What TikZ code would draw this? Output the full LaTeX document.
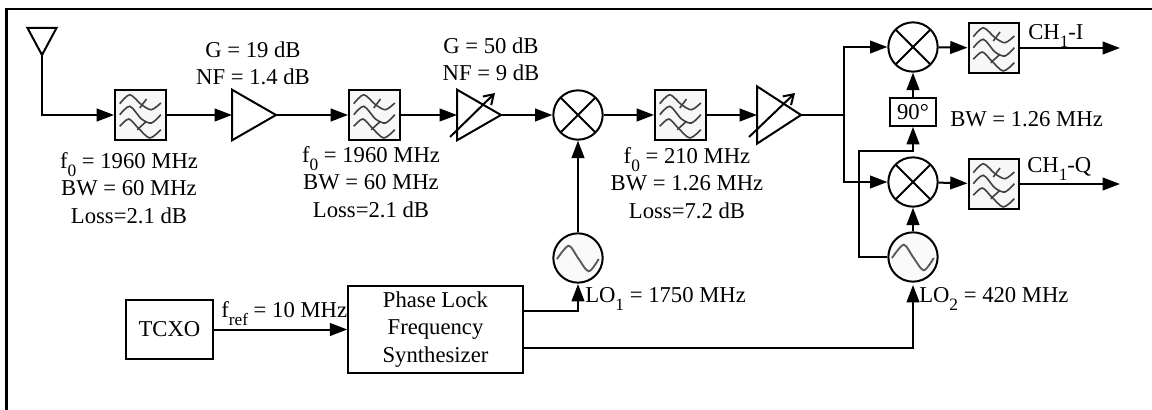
\documentclass[tikz,border=0pt]{standalone}
\usepackage{fontspec}
\setmainfont{Liberation Serif}
\usetikzlibrary{arrows.meta,shapes.geometric}
\newcommand{\mysub}[1]{\raisebox{-0.75ex}[0pt][0pt]{\fontsize{13}{12}\selectfont #1}}
\tikzset{
 wire/.style={line width=1.5pt},
 sig/.style={wire,-{Triangle[length=13pt,width=9.5pt]}},
 lbl/.style={font=\fontsize{17}{20.6}\selectfont,align=center,inner sep=0pt},
 blockbox/.style={draw,line width=1.4pt,inner sep=0pt,font=\fontsize{17}{20.6}\selectfont,align=center},
 filterbox/.style={draw,line width=1.7pt,fill=black!3,minimum size=38pt,inner sep=0pt,
  path picture={
  \begin{scope}[shift={(path picture bounding box.center)},line width=1.2pt,black!75]
  \draw plot[smooth] coordinates {(-20.7,-11.3) (-10.7,-20.3) (1,-10.3) (11,-5.3) (20.3,-12)};
  \draw plot[smooth] coordinates {(-20.7,-0.3) (-10.7,-8.7) (1,4) (11,8) (20.3,-0.3)};
  \draw plot[smooth] coordinates {(-20.7,11.3) (-11.7,4) (-2.3,13) (9.3,23) (20.3,14.7)};
  \draw (-0.7,-7) -- (6,-16);
  \draw (-3.3,14.7) -- (6,6.3);
  \end{scope}
 }},
 mixer/.style={draw,circle,line width=1.5pt,minimum size=37pt,inner sep=0pt,fill=white,
  path picture={
  \draw[line width=1.5pt] (path picture bounding box.north west) -- (path picture bounding box.south east);
  \draw[line width=1.5pt] (path picture bounding box.north east) -- (path picture bounding box.south west);
 }},
 osc/.style={draw,circle,line width=1.5pt,minimum size=37pt,inner sep=0pt,fill=black!2,
  path picture={
  \begin{scope}[shift={(path picture bounding box.center)}]
  \draw[line width=1.4pt,black!65] plot[smooth] coordinates {(-21,1) (-9.3,-12.3) (0,0) (10.7,13.3) (20.7,1)};
  \end{scope}
 }},
 amp/.style={draw,isosceles triangle,isosceles triangle stretches,line width=1.5pt,
  inner sep=0pt,outer sep=0pt,anchor=lower side,minimum width=#1,minimum height=33pt},
 amp/.default=38pt,
 tune/.style={line width=1.5pt,-{Straight Barb[length=7pt,width=9pt]}}
}
\begin{document}
\begin{tikzpicture}[x=0.75pt,y=-0.75pt]
\useasboundingbox (0,0) rectangle (1152,410);
%Frame
\coordinate (frameBL) at (6.5,410);
\coordinate (frameTL) at (6.5,9);
\coordinate (frameTR) at (1152,9);
\draw[line width=1.8pt] (frameBL) -- (frameTL) -- (frameTR);
%Antenna
\coordinate (antL) at (27.5,28);
\coordinate (antR) at (56.5,28);
\coordinate (antTip) at (42,55);
\draw[wire] (antL) -- (antR) -- (antTip) -- cycle;
%Receive chain
\node[filterbox] (filt1) at (140.5,115) {};
\node[amp] (lna) at (232,115) {};
\node[filterbox] (filt2) at (374.5,115) {};
\node[amp] (vga1) at (457,115) {};
\node[mixer] (mix) at (578,115) {};
\node[filterbox] (filt3) at (680.5,115) {};
\node[amp=43pt] (vga2) at (757,115) {};
%I and Q paths
\coordinate (split) at (844,115);
\node[mixer] (mixI) at (913,47) {};
\node[mixer] (mixQ) at (913,182) {};
\node[filterbox] (filtI) at (994,48) {};
\node[filterbox] (filtQ) at (994,184) {};
\coordinate (outI) at (1120,48);
\coordinate (outQ) at (1120,184);
\node[blockbox,minimum width=35pt,minimum height=21pt] (shift) at (913,112) {90°};
%Local oscillators
\node[osc] (lo1) at (578,258) {};
\node[osc] (lo2) at (913,257) {};
\node[blockbox,minimum width=65pt,minimum height=44pt] (tcxo) at (169.5,329.5) {TCXO};
\node[blockbox,minimum width=131pt,minimum height=65pt] (pll) at (435.5,329.5) {Phase Lock\\Frequency\\Synthesizer};
%Connections along the top
\draw[sig] (antTip) |- (filt1.west);
\draw[sig] (filt1) -- (lna.lower side);
\draw[sig] (lna.apex) -- (filt2);
\draw[sig] (filt2) -- (vga1.lower side);
\draw[sig] (vga1.apex) -- (mix);
\draw[sig] (mix) -- (filt3);
\draw[sig] (filt3) -- (vga2.lower side);
\draw[wire] (vga2.apex) -- (split);
\draw[sig] (split) |- (mixI);
\draw[sig] (split) |- (mixQ);
\draw[sig] (mixI) -- (filtI);
\draw[sig] (mixQ) -- (filtQ);
\draw[sig] (filtI) -- (outI);
\draw[sig] (filtQ) -- (outQ);
%Tuning arrows
\coordinate (tune1a) at (450,137);
\coordinate (tune1b) at (495,93);
\coordinate (tune2a) at (749,137);
\coordinate (tune2b) at (795,93);
\draw[tune] (tune1a) -- (tune1b);
\draw[tune] (tune2a) -- (tune2b);
%Connections to the mixers
\draw[sig] (lo1) -- (mix);
\draw[sig] (shift) -- (mixI);
\draw[sig] (lo2) -- (mixQ);
\coordinate (loTap) at (859,151);
\draw[sig] (lo2.west) -| (loTap) -| (shift.south);
%Synthesizer
\draw[sig] (tcxo) -- (pll);
\coordinate (pllOut1) at (pll.east |- 0,311);
\coordinate (pllOut2) at (pll.east |- 0,348);
\coordinate (lo1In) at (578,284);
\coordinate (lo2In) at (913,285);
\draw[sig] (pllOut1) -| (lo1In);
\draw[sig] (pllOut2) -| (lo2In);
%Labels
\node[lbl] (gain1) at (253,63.5) {G = 19 dB\\NF = 1.4 dB};
\node[lbl] (gain2) at (491,59.5) {G = 50 dB\\NF = 9 dB};
\node[lbl] (spec1) at (129,188) {f\mysub{0} = 1960 MHz\\BW = 60 MHz\\Loss=2.1 dB};
\node[lbl] (spec2) at (371,182) {f\mysub{0} = 1960 MHz\\BW = 60 MHz\\Loss=2.1 dB};
\node[lbl] (spec3) at (687,183) {f\mysub{0} = 210 MHz\\BW = 1.26 MHz\\Loss=7.2 dB};
\node[lbl,anchor=west] (chI) at (1028,32) {CH\mysub{1}-I};
\node[lbl,anchor=west] (chQ) at (1027,167) {CH\mysub{1}-Q};
\node[lbl,anchor=west] (bwIF) at (950,119) {BW = 1.26 MHz};
\node[lbl,anchor=west] (lo1Txt) at (585,295) {LO\mysub{1} = 1750 MHz};
\node[lbl,anchor=west] (lo2Txt) at (919,295) {LO\mysub{2} = 420 MHz};
\node[lbl,anchor=west] (frefTxt) at (221,310) {f\mysub{ref} = 10 MHz};
\end{tikzpicture}
\end{document}
